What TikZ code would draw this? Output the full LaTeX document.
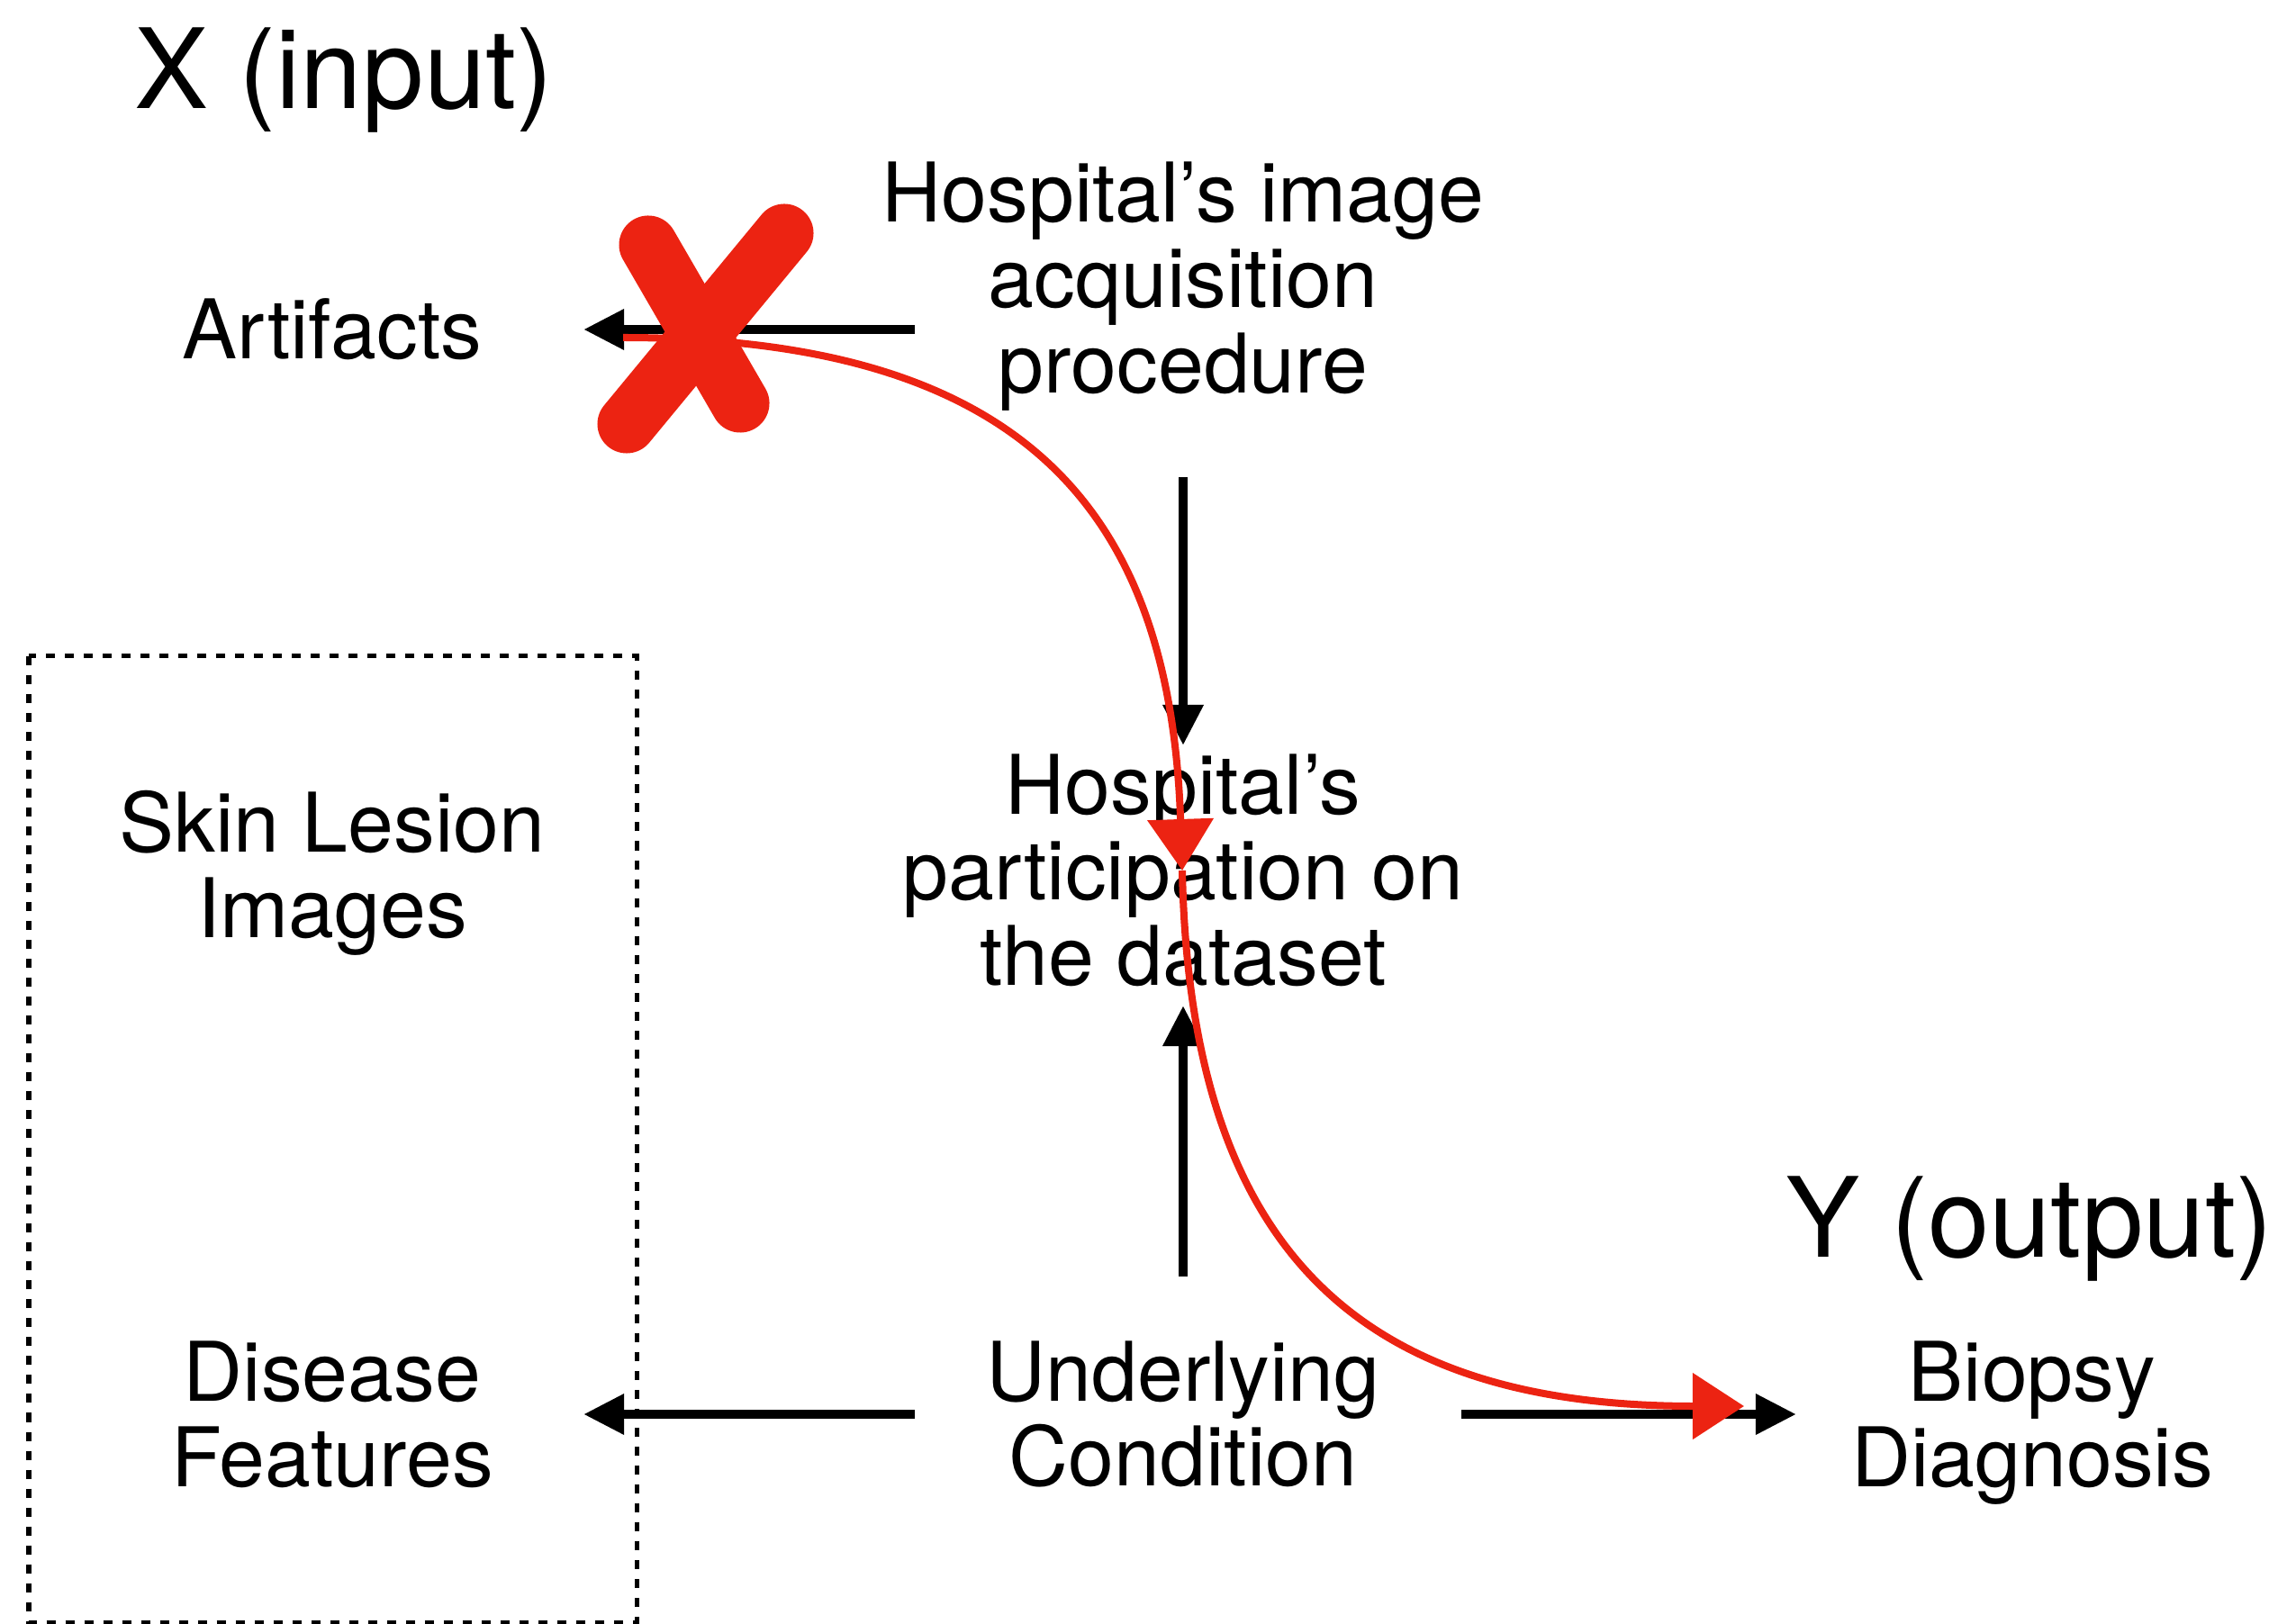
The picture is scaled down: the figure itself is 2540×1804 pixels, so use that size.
\documentclass[tikz,border=0pt]{standalone}
\usepackage{fontspec}
\setmainfont{TeX Gyre Heros}
\usetikzlibrary{arrows.meta,calc}
\definecolor{crossred}{RGB}{236,35,18}

\begin{document}
\begin{tikzpicture}[x=0.01cm,y=-0.01cm,
    lbl/.style={align=center,inner sep=0pt,font=\fontsize{26}{27}\selectfont},
    ttl/.style={anchor=base,inner sep=0pt,font=\fontsize{35}{36}\selectfont},
    arr/.style={-{Triangle[length=4.5mm,width=4.3mm]},line width=1mm},
    redarr/.style={-{Triangle[length=5.7mm,width=7.2mm]},line width=0.8mm,crossred}]
      \useasboundingbox (0,0) rectangle (2540,1804);
      % titles
      \node[ttl] (xin) at (382,121) {X (input)};
      \node[ttl] (yout) at (2254,1396) {Y (output)};
      % variables
      \node[lbl] (artif) at (369,366) {Artifacts};
      \node[lbl] (hosp) at (1314,318) {Hospital’s image\\acquisition\\procedure};
      \node[lbl] (part) at (1314,967) {Hospital’s\\participation on\\the dataset};
      \node[lbl] (skin) at (369,970) {Skin Lesion\\Images};
      \node[lbl] (disease) at (369,1571) {Disease\\Features};
      \node[lbl] (cond) at (1314,1571) {Underlying\\Condition};
      \node[lbl] (biopsy) at (2257,1581) {Biopsy\\Diagnosis};
      % input box
      \draw[line width=0.5mm,dash pattern=on 1mm off 1.1mm] (32,729) rectangle (707,1802);
      % causal links
      \draw[arr,shorten <=2.98cm,shorten >=2.79cm] (artif -| hosp) -- (artif.center);
      \draw[arr,shorten <=2.12cm,shorten >=1.39cm] (hosp.center) -- (part.center);
      \draw[arr,shorten <=1.53cm,shorten >=1.50cm] (cond.center) -- (part.center);
      \draw[arr,shorten <=2.98cm,shorten >=2.79cm] (cond.center) -- (disease.center);
      \draw[arr,shorten <=3.09cm,shorten >=2.62cm] (cond.center) -- (biopsy.center |- cond.center);
      % spurious path
      \coordinate (rs) at (692,375);
      \coordinate (rm) at (1313,967);
      \coordinate (re) at (1937,1562);
      \draw[redarr] (rs) .. controls (1150,375) and (1300,580) .. (rm);
      \draw[redarr] (rm) .. controls (1322,1400) and (1520,1562) .. (re);
      % cut mark
      \coordinate (cut) at (780,365);
      \draw[crossred,line width=6.5mm,line cap=round] ($(cut)+(-60,-93)$) -- ($(cut)+(42,83)$);
      \draw[crossred,line width=6.5mm,line cap=round] ($(cut)+(91,-106)$) -- ($(cut)+(-84,106)$);
    \end{tikzpicture}
\end{document}
